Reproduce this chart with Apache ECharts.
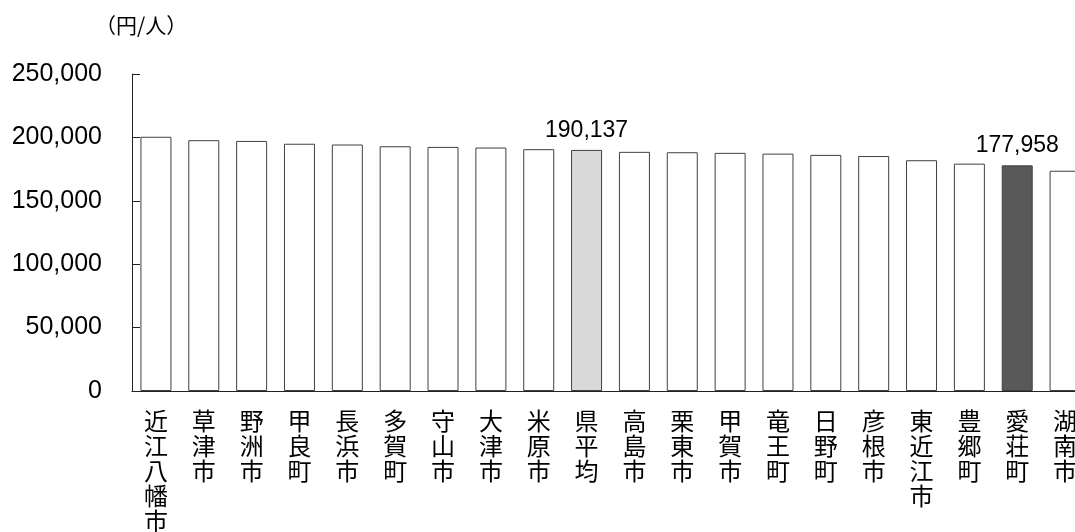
<!DOCTYPE html>
<html>
<head>
<meta charset="utf-8">
<script src="https://cdn.jsdelivr.net/npm/echarts@6/dist/echarts.min.js"></script>
<style>
  html, body { margin: 0; padding: 0; background: #fff; }
  #main { width: 1075px; height: 532px; }
</style>
</head>
<body>
<div id="main"></div>
<script>
var cities = ['近江八幡市', '草津市', '野洲市', '甲良町', '長浜市', '多賀町', '守山市', '大津市', '米原市', '県平均',
  '高島市', '栗東市', '甲賀市', '竜王町', '日野町', '彦根市', '東近江市', '豊郷町', '愛荘町', '湖南市'];
var values = [200500, 197800, 197200, 195000, 194400, 193000, 192500, 192000, 190700, 190137,
  188600, 188300, 187800, 187200, 186200, 185300, 182000, 179300, 177958, 173700];
var yTicks = [0, 50000, 100000, 150000, 200000, 250000];

var chart = echarts.init(document.getElementById('main'));

var latin = '"Liberation Sans", Arial, sans-serif';
var cjk = '"Noto Sans CJK JP", sans-serif';

// highlighted bars: prefecture average and 愛荘町
var barData = values.map(function (v, i) {
  var item = { value: v };
  if (cities[i] === '県平均') {
    item.itemStyle = { color: '#d9d9d9' };
    item.label = { show: true };
  } else if (cities[i] === '愛荘町') {
    item.itemStyle = { color: '#595959' };
    item.label = { show: true };
  }
  return item;
});

var option = {
  animation: false,
  graphic: [{
    type: 'text',
    left: 95,
    top: 15,
    style: { text: '（円/人）', font: '21px ' + cjk, fill: '#000' }
  }],
  // the last bar runs past the right edge, as in the original
  grid: { left: 132, top: 74, width: 957, height: 317, outerBoundsMode: 'none' },
  xAxis: {
    type: 'category',
    data: cities,
    axisLine: { lineStyle: { color: '#222', width: 1 } },
    axisTick: { show: false },
    axisLabel: {
      interval: 0,
      margin: 17,
      color: '#000',
      fontFamily: cjk,
      fontSize: 24,
      lineHeight: 25,
      formatter: function (v) { return v.split('').join('\n'); }
    }
  },
  yAxis: {
    type: 'value',
    min: yTicks[0],
    max: yTicks[yTicks.length - 1],
    interval: 50000,
    splitLine: { show: false },
    axisLine: { show: true, lineStyle: { color: '#222', width: 1 } },
    axisTick: { show: true, inside: true, length: 8, lineStyle: { color: '#222' } },
    axisLabel: {
      margin: 30,
      color: '#000',
      fontFamily: latin,
      fontSize: 25,
      formatter: function (v) { return v.toLocaleString('en-US'); }
    }
  },
  series: [{
    type: 'bar',
    data: barData,
    barWidth: 31,
    itemStyle: { color: '#fff', borderColor: '#404040', borderWidth: 1 },
    label: {
      show: false,
      position: 'top',
      distance: 8,
      color: '#000',
      fontFamily: latin,
      fontSize: 23,
      formatter: function (p) { return p.value.toLocaleString('en-US'); }
    }
  }]
};

chart.setOption(option);
</script>
</body>
</html>
